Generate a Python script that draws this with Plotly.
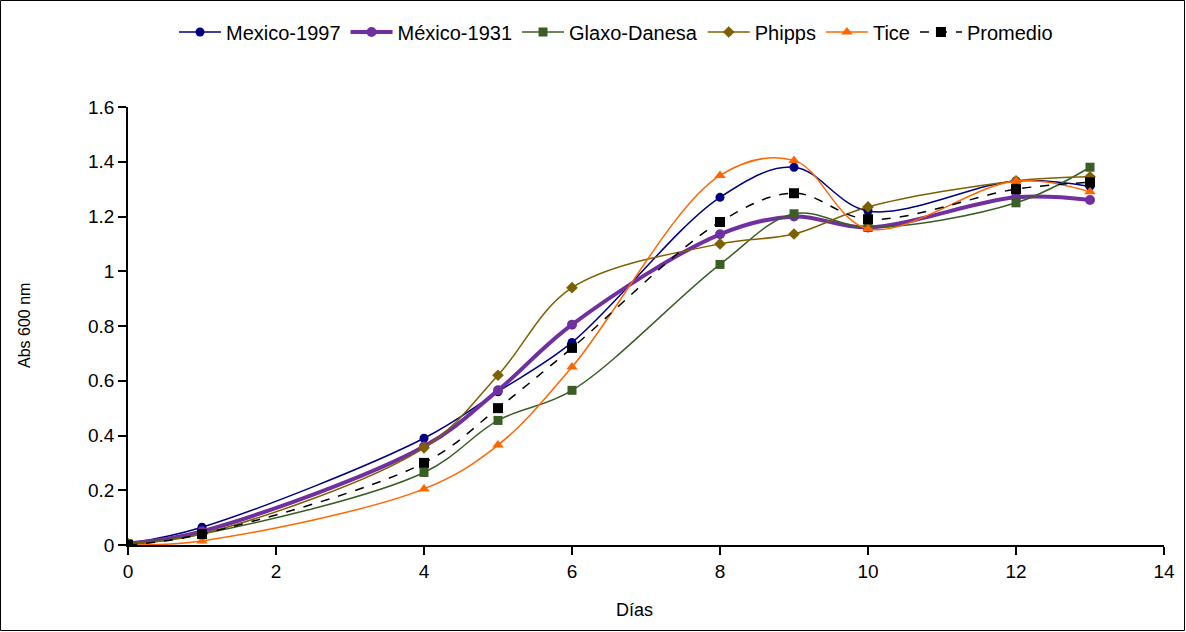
import plotly.graph_objects as go

dias = [0, 1, 4, 5, 6, 8, 9, 10, 12, 13]
mexico_1997 = [0.005, 0.065, 0.39, 0.56, 0.74, 1.27, 1.38, 1.22, 1.33, 1.31]
mexico_1931 = [0.005, 0.05, 0.36, 0.565, 0.805, 1.135, 1.2, 1.16, 1.27, 1.26]
glaxo_danesa = [0.005, 0.04, 0.265, 0.455, 0.565, 1.025, 1.21, 1.16, 1.25, 1.38]
phipps = [0.005, 0.04, 0.355, 0.62, 0.94, 1.10, 1.136, 1.235, 1.33, 1.345]
tice = [0.0, 0.015, 0.205, 0.365, 0.65, 1.35, 1.405, 1.155, 1.33, 1.29]
promedio = [0.0, 0.04, 0.30, 0.50, 0.72, 1.18, 1.285, 1.19, 1.30, 1.325]

series = [
    ("Mexico-1997", mexico_1997, "#000080", 1.5, "circle", 9, "solid"),
    ("México-1931", mexico_1931, "#7030A0", 4, "circle", 10, "solid"),
    ("Glaxo-Danesa", glaxo_danesa, "#3A5F25", 1.5, "square", 9, "solid"),
    ("Phipps", phipps, "#7F6000", 1.5, "diamond", 9, "solid"),
    ("Tice", tice, "#FF6600", 1.5, "triangle-up", 10, "solid"),
    ("Promedio", promedio, "#000000", 1.5, "square", 10, "dash"),
]

fig = go.Figure()
for name, ys, color, w, sym, ms, dash in series:
    fig.add_trace(go.Scatter(
        x=dias, y=ys, name=name, mode="lines+markers",
        line=dict(color=color, width=w, shape="spline", smoothing=1, dash=dash),
        marker=dict(symbol=sym, size=ms, color=color),
    ))

W, H = 1186, 632
L, R, T, B = 128, 22, 107, 87
PW, PH = W - L - R, H - T - B

fig.update_layout(
    width=W, height=H,
    margin=dict(l=L, r=R, t=T, b=B, autoexpand=False),
    paper_bgcolor="white", plot_bgcolor="white",
    font=dict(family="Liberation Sans, Arial, sans-serif", color="black"),
    showlegend=True,
    legend=dict(orientation="h", xref="container", yref="container",
                x=616 / W, xanchor="center", y=1 - 32 / H, yanchor="middle",
                bgcolor="rgba(0,0,0,0)",
                font=dict(size=20), itemwidth=42, tracegroupgap=0),
    xaxis=dict(range=[0, 14], dtick=2, showgrid=False, zeroline=False,
               showline=True, linecolor="black", linewidth=1.5,
               ticks="outside", ticklen=8, tickcolor="black", tickwidth=1.5,
               tickfont=dict(size=19)),
    yaxis=dict(range=[0, 1.6], dtick=0.2, showgrid=False, zeroline=False,
               showline=True, linecolor="black", linewidth=1.5,
               ticks="outside", ticklen=8, tickcolor="black", tickwidth=1.5,
               tickfont=dict(size=19), tickformat="~g"),
    annotations=[
        dict(text="Días", xref="paper", yref="paper",
             x=(634 - L) / PW, y=-(610 - (T + PH)) / PH,
             xanchor="center", yanchor="middle", showarrow=False,
             font=dict(size=18)),
        dict(text="Abs 600 nm", xref="paper", yref="paper",
             x=(24 - L) / PW, y=0.5, textangle=-90,
             xanchor="center", yanchor="middle", showarrow=False,
             font=dict(size=16)),
    ],
)

fig.add_shape(type="rect", xref="paper", yref="paper",
              x0=-(L - 0.5) / PW, x1=1 + (R - 1.5) / PW,
              y0=-(B - 1.5) / PH, y1=1 + (T - 0.5) / PH,
              line=dict(color="black", width=1), layer="below")

fig.write_html("out.html")
